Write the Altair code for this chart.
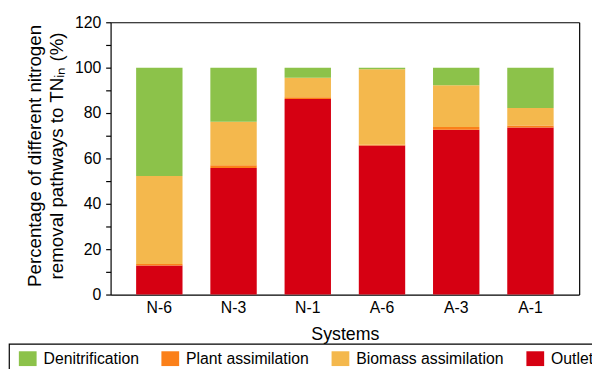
import altair as alt
import pandas as pd

systems = ["N-6", "N-3", "N-1", "A-6", "A-3", "A-1"]
outlet = [12.8, 55.8, 86.2, 65.7, 72.6, 73.6]
plant = [0.7, 1.2, 0.8, 0.3, 1.2, 0.9]
biomass = [38.8, 19.2, 8.5, 33.3, 18.4, 7.7]
denitrification = [47.7, 23.8, 4.5, 0.7, 7.8, 17.8]

tick_values = [0, 10, 20, 30, 40, 50, 60, 70, 80, 90, 100, 110, 120]

pathways = ["Denitrification", "Plant assimilation", "Biomass assimilation", "Outlet"]
colors = ["#8CC24A", "#FB8019", "#F4B84D", "#D60012"]
stack_order = {"Outlet": 0, "Plant assimilation": 1, "Biomass assimilation": 2, "Denitrification": 3}

rows = []
for i, s in enumerate(systems):
    for name, series in [("Outlet", outlet), ("Plant assimilation", plant),
                         ("Biomass assimilation", biomass), ("Denitrification", denitrification)]:
        rows.append({"System": s, "Pathway": name, "Value": series[i], "Order": stack_order[name]})
df = pd.DataFrame(rows)

x_scale = alt.Scale(paddingInner=0.375, paddingOuter=0.344)
y_scale = alt.Scale(domain=[0, 120], nice=False)

bars = alt.Chart(df).mark_bar().encode(
    x=alt.X("System:N", sort=systems, scale=x_scale,
            axis=alt.Axis(title="Systems", labelAngle=0, ticks=False, labelPadding=5,
                          labelFontSize=16, titleFontSize=18, titleFontWeight="normal",
                          titleBaseline="alphabetic", titleY=46,
                          domainColor="black", domainWidth=1.2, labelColor="black", titleColor="black")),
    y=alt.Y("Value:Q", stack="zero", scale=y_scale,
            axis=alt.Axis(values=tick_values,
                          labelExpr="datum.value % 20 === 0 ? datum.label : ''",
                          tickSize=5,
                          labelPadding=5, labelFontSize=16, grid=False,
                          title=["Percentage of different nitrogen", "removal pathways to TN\u1d62\u2099 (%)"],
                          titleFontSize=19, titleFontWeight="normal", titleAngle=270,
                          titleAlign="center", titleBaseline="alphabetic", titleLineHeight=22,
                          titleX=-71, titleY=135,
                          domainColor="black", domainWidth=1.2, tickColor="black", tickWidth=1.2,
                          labelColor="black", titleColor="black")),
    color=alt.Color("Pathway:N", scale=alt.Scale(domain=pathways, range=colors),
                    legend=alt.Legend(title=None, orient="none", direction="horizontal",
                                      legendX=-103, legendY=326,
                                      padding=6, symbolOffset=4,
                                      symbolType="M-1,-0.833L1,-0.833L1,0.833L-1,0.833Z",
                                      symbolSize=324, symbolStrokeWidth=0, labelOffset=7,
                                      labelFontSize=16, labelColor="black", columnPadding=18.5)),
    order=alt.Order("Order:Q", sort="ascending"),
)

frame = alt.Chart(df).mark_bar(opacity=0).encode(
    x=alt.X("System:N", sort=systems, scale=x_scale,
            axis=alt.Axis(orient="top", title=None, labels=False, ticks=False,
                          domainColor="black", domainWidth=1.2)),
    y=alt.Y("Value:Q", stack="zero", scale=y_scale,
            axis=alt.Axis(orient="right", title=None, labels=False, ticks=False, grid=False,
                          domainColor="black", domainWidth=1.2)),
)

chart = alt.layer(bars, frame).resolve_axis(x="independent", y="independent").properties(
    width=475, height=276,
    autosize=alt.AutoSizeParams(type="none"),
    padding={"left": 104, "top": 12, "right": 13, "bottom": 73},
).configure(
    font="Liberation Sans"
).configure_view(
    stroke=None
).configure_legend(
    strokeColor="black", strokeWidth=1.2
)

chart.save("out.html", embed_options={"renderer": "svg", "actions": False})
